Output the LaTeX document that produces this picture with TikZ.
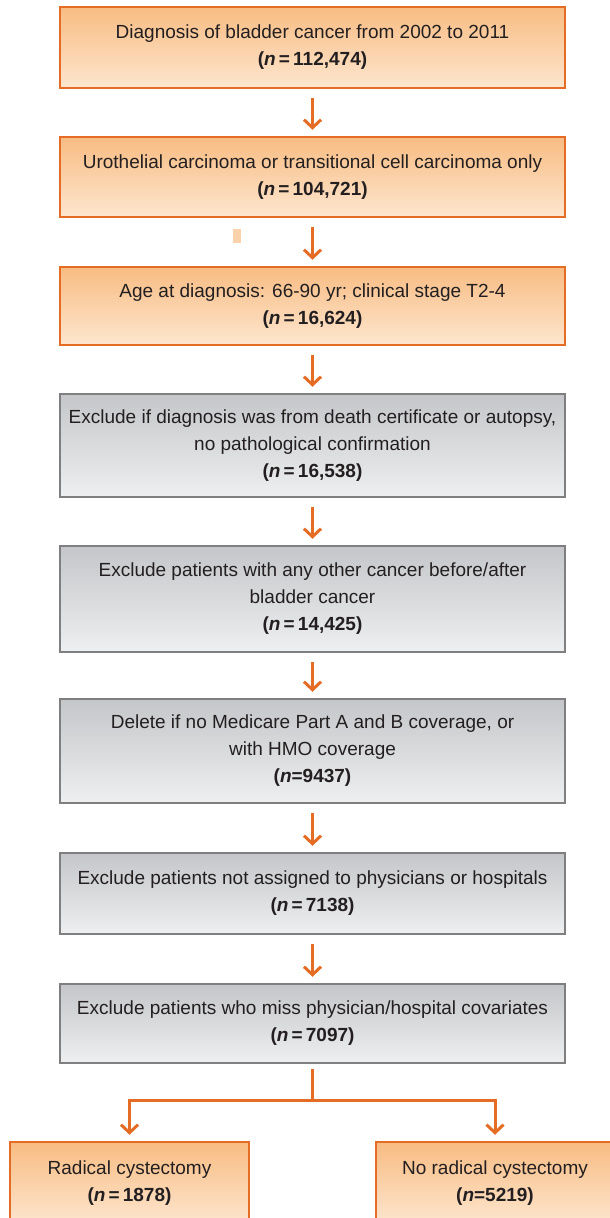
\documentclass[tikz,border=0pt]{standalone}
\usepackage{fontspec}
\setmainfont{Liberation Sans}
\usetikzlibrary{arrows.meta}
\definecolor{edgeorange}{HTML}{E46C24}
\definecolor{orangetop}{HTML}{F8BC82}
\definecolor{orangebot}{HTML}{FDE6CF}
\definecolor{edgegrey}{HTML}{7F7F80}
\definecolor{greytop}{HTML}{C4C6C9}
\definecolor{greybot}{HTML}{EEEFF0}
\definecolor{ink}{HTML}{231F20}
\definecolor{speck}{HTML}{F9D2AC}
\begin{document}
\begin{tikzpicture}[x=1pt,y=-1pt,
  font=\fontsize{19}{27}\selectfont,
  flowbox/.style={line width=2.5pt, align=center, text=ink, inner sep=0pt, minimum width=505pt},
  orangebox/.style={flowbox, draw=edgeorange, top color=orangetop, bottom color=orangebot},
  greybox/.style={flowbox, draw=edgegrey, top color=greytop, bottom color=greybot},
  arr/.style={draw=edgeorange, line width=3pt, -{Straight Barb[length=8pt,width=17pt]}, shorten <=9pt, shorten >=6pt}]
\useasboundingbox (0,0) rectangle (610,1218);

%boxes
\node[orangebox, minimum height=81pt] (diag) at (312.5,47.5){Diagnosis of bladder cancer from 2002 to 2011\\ \textbf{(\textit{n}\,=\,112,474)}};
\node[orangebox, minimum height=80pt] (uro) at (312.5,177){Urothelial carcinoma or transitional cell carcinoma only\\ \textbf{(\textit{n}\,=\,104,721)}};
\node[orangebox, minimum height=78pt] (age) at (312.5,306){Age at diagnosis: 66-90 yr; clinical stage T2-4\\ \textbf{(\textit{n}\,=\,16,624)}};
\node[greybox, minimum height=103pt] (death) at (312.5,445.5){Exclude if diagnosis was from death certificate or autopsy,\\ no pathological confirmation\\ \textbf{(\textit{n}\,=\,16,538)}};
\node[greybox, minimum height=106pt] (other) at (312.5,599){Exclude patients with any other cancer before/after\\ bladder cancer\\ \textbf{(\textit{n}\,=\,14,425)}};
\node[greybox, minimum height=104pt] (medi) at (312.5,751){Delete if no Medicare Part A and B coverage, or\\ with HMO coverage\\ \textbf{(\textit{n}=9437)}};
\node[greybox, minimum height=81pt] (assign) at (312.5,893.5){Exclude patients not assigned to physicians or hospitals\\ \textbf{(\textit{n}\,=\,7138)}};
\node[greybox, minimum height=79pt] (covar) at (312.5,1023.5){Exclude patients who miss physician/hospital covariates\\ \textbf{(\textit{n}\,=\,7097)}};
\node[orangebox, minimum width=239pt, minimum height=82pt] (rc) at (129.5,1183){Radical cystectomy\\ \textbf{(\textit{n}\,=\,1878)}};
\node[orangebox, minimum width=238pt, minimum height=82pt] (norc) at (495,1183){No radical cystectomy\\ \textbf{(\textit{n}=5219)}};

%arrows
\foreach \a/\b in {diag/uro, uro/age, age/death, death/other, other/medi, medi/assign, assign/covar}{
    \draw[arr] (\a) -- (\b);
}
\coordinate (split) at (312.5,1100);
\draw[edgeorange, line width=3pt, shorten <=5pt] (covar) -- (split);
\draw[arr, shorten <=0pt] (split) -| (rc);
\draw[arr, shorten <=0pt] (split) -| (norc);

%speck
\fill[speck] (233,229) rectangle (241,243);
\end{tikzpicture}
\end{document}
